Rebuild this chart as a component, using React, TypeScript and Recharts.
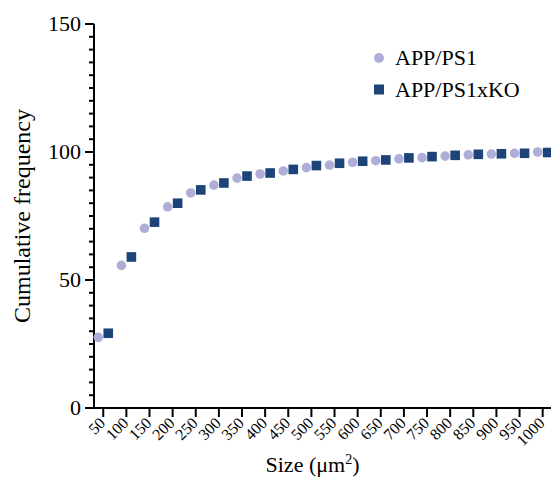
import React from "react";
import { ScatterChart, Scatter, XAxis, YAxis, Label } from "recharts";

const sizes = [50, 100, 150, 200, 250, 300, 350, 400, 450, 500, 550, 600, 650, 700, 750, 800, 850, 900, 950, 1000];
const appPs1 = [27.6, 55.7, 70.2, 78.6, 84.0, 87.1, 89.8, 91.4, 92.6, 93.9, 94.9, 96.0, 96.6, 97.3, 97.8, 98.4, 98.9, 99.2, 99.5, 100];
const appPs1xKo = [29.2, 59.0, 72.6, 80.0, 85.2, 87.9, 90.6, 91.8, 93.2, 94.7, 95.6, 96.4, 96.9, 97.7, 98.2, 98.7, 99.1, 99.3, 99.5, 99.8];
const yTicks = [0, 5, 10, 15, 20, 25, 30, 35, 40, 45, 50, 55, 60, 65, 70, 75, 80, 85, 90, 95, 100, 105, 110, 115, 120, 125, 130, 135, 140, 145, 150];

const ps1Data = sizes.map((s, i) => ({ size: s, freq: appPs1[i] }));
const koData = sizes.map((s, i) => ({ size: s, freq: appPs1xKo[i] }));

const FONT = "Liberation Serif";
const LIGHT = "#aeaed8";
const DARK = "#1d4479";

function CircleDot(props: any) {
  return <circle cx={props.cx - 5} cy={props.cy} r={4.8} fill={LIGHT} />;
}

function SquareDot(props: any) {
  return <rect x={props.cx + 5 - 4.8} y={props.cy - 4.8} width={9.6} height={9.6} fill={DARK} />;
}

function YTick(props: any) {
  const { x, y, payload } = props;
  const major = payload.value % 50 === 0;
  const len = major ? 9 : 5;
  return (
    <g>
      <line x1={x - len} x2={x} y1={y} y2={y} stroke="#000" strokeWidth={2} />
      {major && (
        <text x={x - len - 4} y={y} dy={7} textAnchor="end" style={{ fontFamily: FONT, fontSize: 22 }} fill="#000">
          {payload.value}
        </text>
      )}
    </g>
  );
}

function XTick(props: any) {
  const { x, y, payload } = props;
  return (
    <g>
      <line x1={x} x2={x} y1={y} y2={y + 9} stroke="#000" strokeWidth={2} />
      <text x={x + 3} y={y + 16} textAnchor="end" transform={`rotate(-45, ${x + 3}, ${y + 16})`} style={{ fontFamily: FONT, fontSize: 16 }} fill="#000">
        {payload.value}
      </text>
    </g>
  );
}

function XLabel(props: any) {
  const { viewBox } = props;
  const cx = viewBox.x + viewBox.width / 2 - 10;
  return (
    <text x={cx} y={viewBox.y + 64} textAnchor="middle" style={{ fontFamily: FONT, fontSize: 22 }} fill="#000">
      Size (μm
      <tspan dy={-8} style={{ fontSize: 14 }}>2</tspan>
      <tspan dy={8}>)</tspan>
    </text>
  );
}

function YLabel(props: any) {
  const { viewBox } = props;
  const cy = viewBox.y + viewBox.height / 2;
  return (
    <text x={30} y={cy} textAnchor="middle" transform={`rotate(-90, 30, ${cy})`} style={{ fontFamily: FONT, fontSize: 24 }} fill="#000">
      Cumulative frequency
    </text>
  );
}

export default function App() {
  return (
    <div style={{ position: "absolute", left: 0, top: 0, width: 551, height: 478, background: "#fff" }}>
      <ScatterChart width={551} height={478} margin={{ top: 24, right: 0, bottom: 0, left: 0 }}>
        <XAxis
          type="number"
          dataKey="size"
          domain={[30, 1018]}
          ticks={sizes}
          interval={0}
          height={70}
          tickLine={false}
          tickSize={0}
          tickMargin={0}
          tick={<XTick />}
          axisLine={{ stroke: "#000", strokeWidth: 2 }}
        >
          <Label content={<XLabel />} />
        </XAxis>
        <YAxis
          type="number"
          dataKey="freq"
          domain={[0, 150]}
          ticks={yTicks}
          interval={0}
          width={94}
          tickLine={false}
          tickSize={0}
          tickMargin={0}
          tick={<YTick />}
          axisLine={{ stroke: "#000", strokeWidth: 2 }}
        >
          <Label content={<YLabel />} />
        </YAxis>
        <Scatter name="APP/PS1" data={ps1Data} fill={LIGHT} shape={<CircleDot />} isAnimationActive={false} />
        <Scatter name="APP/PS1xKO" data={koData} fill={DARK} shape={<SquareDot />} isAnimationActive={false} />
        <g>
          <circle cx={379} cy={58} r={5} fill={LIGHT} />
          <text x={395} y={65} style={{ fontFamily: FONT, fontSize: 22 }} fill="#000">APP/PS1</text>
          <rect x={374} y={84.5} width={10} height={10} fill={DARK} />
          <text x={395} y={97} style={{ fontFamily: FONT, fontSize: 22 }} fill="#000">APP/PS1xKO</text>
        </g>
      </ScatterChart>
    </div>
  );
}
